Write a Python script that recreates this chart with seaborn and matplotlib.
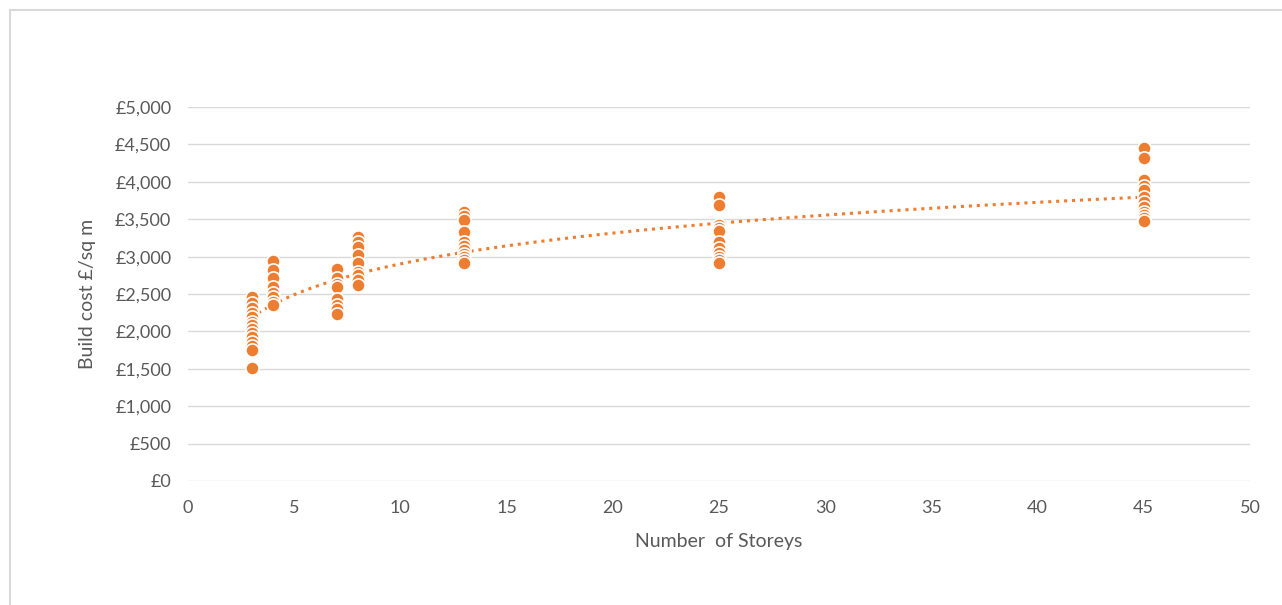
import matplotlib
matplotlib.use('Agg')
import matplotlib.pyplot as plt
import matplotlib.ticker as mticker
from matplotlib.patches import Rectangle
import numpy as np
import pandas as pd
import seaborn as sns

# Build cost per storey count
# (stacked clusters, overlapping markers counted as best as possible)
storeys_3 = [2460, 2380, 2310, 2250, 2190, 2130, 2090, 2030, 1980, 1920,
             1860, 1800, 1750, 1510]
storeys_4 = [2940, 2820, 2720, 2590, 2510, 2460, 2400, 2350]
storeys_7 = [2830, 2710, 2640, 2600, 2430, 2350, 2300, 2230]
storeys_8 = [3260, 3190, 3130, 3020, 2910, 2800, 2750, 2690, 2620]
storeys_13 = [3600, 3540, 3490, 3330, 3200, 3140, 3090, 3040, 3000, 2960, 2920]
storeys_25 = [3800, 3690, 3420, 3380, 3340, 3190, 3120, 3050, 3000, 2950, 2920]
storeys_45 = [4450, 4320, 4030, 3950, 3890, 3800, 3730, 3660, 3600, 3560,
              3520, 3480]

groups = {3: storeys_3, 4: storeys_4, 7: storeys_7, 8: storeys_8,
          13: storeys_13, 25: storeys_25, 45: storeys_45}

x_ticks = list(range(0, 51, 5))
y_ticks = list(range(0, 5001, 500))

ORANGE = '#ED7D31'
GREY_TEXT = '#595959'

df = pd.DataFrame([(k, v) for k, vals in groups.items() for v in vals],
                  columns=['storeys', 'cost'])

sns.set_theme(style='white')
plt.rcParams['font.family'] = ['Lato', 'DejaVu Sans']

fig = plt.figure(figsize=(12.82, 6.05), dpi=100)
ax = fig.add_axes([0.1466, 0.205, 0.8284, 0.618])

# chart area border
fig.patches.append(Rectangle((10 / 1282, -0.01), 1.0, 1 - 10 / 605 + 0.01,
                             transform=fig.transFigure, fill=False,
                             edgecolor='#d9d9d9', linewidth=1.5))

# logarithmic trendline (y ~ a + b ln x)
sns.regplot(data=df, x='storeys', y='cost', logx=True, ci=None, ax=ax,
            scatter=False, truncate=True,
            line_kws={'color': ORANGE, 'linestyle': (0, (1, 1.6)),
                      'linewidth': 2.2})

sns.scatterplot(data=df, x='storeys', y='cost', ax=ax, color=ORANGE,
                s=90, edgecolor='white', linewidth=1.2, zorder=3)

ax.set_xlim(0, 50)
ax.set_ylim(0, 5000)
ax.set_xticks(x_ticks)
ax.set_yticks(y_ticks)
ax.yaxis.set_major_formatter(mticker.FuncFormatter(lambda v, p: f'£{int(v):,}'))

ax.grid(axis='y', color='#d9d9d9', linewidth=1)
ax.set_axisbelow(True)
for side in ['top', 'right', 'left', 'bottom']:
    ax.spines[side].set_visible(False)

ax.tick_params(axis='both', length=0, labelsize=13, labelcolor=GREY_TEXT)
ax.tick_params(axis='x', pad=14)
ax.tick_params(axis='y', pad=12)

ax.set_xlabel('Number  of Storeys', fontsize=14, color=GREY_TEXT, labelpad=12)
ax.set_ylabel('Build cost £/sq m', fontsize=14, color=GREY_TEXT, labelpad=14)

fig.savefig('out.png', dpi=100, facecolor='white')
